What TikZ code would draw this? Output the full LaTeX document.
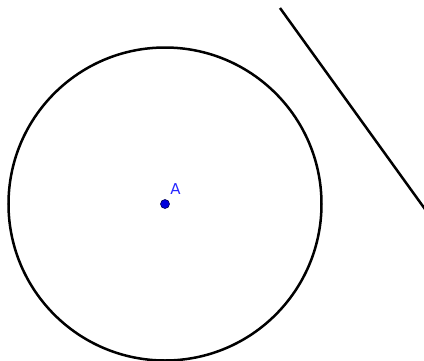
\documentclass[tikz,border=0pt]{standalone}
\usepackage{fontspec}
\setsansfont{DejaVu Sans}
\begin{document}
\begin{tikzpicture}[x=1pt,y=-1pt,
  curve/.style={draw=black,line width=2.5pt},
  ptdot/.style={circle,fill={rgb,255:red,0;green,0;blue,220},draw={rgb,255:red,0;green,0;blue,90},line width=0.6pt,inner sep=0pt,minimum size=9pt},
  ptlabel/.style={text={rgb,255:red,40;green,40;blue,255},font=\sffamily\fontsize{15}{15}\selectfont,inner sep=0pt}]
\useasboundingbox (0,0) rectangle (424,360);
\fill[white] (0,0) rectangle (424,360);
\coordinate (A) at (165,204);
\draw[curve] (A) circle[radius=156.5];
\coordinate (L1) at (280,8);
\coordinate (L2) at (426,210.5);
\draw[curve] (L1) -- (L2);
\node[ptdot] (Adot) at (A) {};
\node[ptlabel] (Alabel) at (175.5,189.5) {A};
\end{tikzpicture}
\end{document}
